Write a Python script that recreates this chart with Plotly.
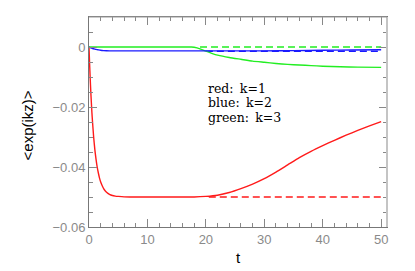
import plotly.graph_objects as go

# ---- data ----
t_red = [0, 0.1, 0.2, 0.3, 0.4, 0.5, 0.6, 0.8, 1.0, 1.2, 1.4, 1.6, 1.8, 2.0, 2.3, 2.6,
         3.0, 3.5, 4.0, 4.5, 5, 6, 7, 8, 10, 12, 15, 18, 20, 22, 24, 26, 28, 30, 32,
         34, 36, 38, 40, 42, 44, 46, 48, 50]
red = [0, -0.0054, -0.0103, -0.0146, -0.0184, -0.0219, -0.0249, -0.0301, -0.0342,
       -0.0374, -0.0400, -0.0420, -0.0437, -0.0450, -0.0464, -0.0475, -0.0484, -0.0491,
       -0.0495, -0.0497, -0.0498, -0.04995, -0.0500, -0.0500, -0.0500, -0.0500, -0.0500,
       -0.0500, -0.0498, -0.0494, -0.0485, -0.0472, -0.0457, -0.0439, -0.0417, -0.0393,
       -0.0369, -0.0348, -0.0329, -0.0311, -0.0294, -0.0278, -0.0263, -0.0249]
t_red_ref = [20.5, 50]
red_ref = [-0.0500, -0.0500]

t_blue = [0, 0.3, 0.6, 1.0, 1.5, 2.0, 2.5, 3, 4, 5, 8, 12, 16, 20, 25, 30, 35, 40, 45, 50]
blue = [0, -0.0003, -0.0005, -0.0007, -0.0009, -0.0011, -0.0012, -0.00125, -0.0013,
        -0.0013, -0.0013, -0.0013, -0.0013, -0.0013, -0.0013, -0.0013, -0.0012,
        -0.0011, -0.0010, -0.0009]
t_blue_ref = [20, 50]
blue_ref = [-0.0014, -0.0014]

t_green = [0, 5, 10, 15, 17.5, 18, 19, 20, 21, 22, 24, 26, 28, 30, 32, 34, 36, 38, 40,
           43, 46, 50]
green = [0, 0, 0, 0, 0, -0.0001, -0.0006, -0.0014, -0.0021, -0.0027, -0.0035, -0.0041,
         -0.0047, -0.0051, -0.0055, -0.0058, -0.0060, -0.0062, -0.0064, -0.0066,
         -0.0067, -0.0068]
t_green_ref = [19, 50]
green_ref = [0, 0]

legend_lines = ["red:\u2002k=1", "blue:\u2002k=2", "green:\u2002k=3"]
legend_y = [-0.0138, -0.0186, -0.0235]

x_range = [0, 51]
y_range = [-0.06, 0.01]

RED, BLUE, GREEN = "#ff1a1a", "#1a1aff", "#22ee22"

fig = go.Figure()
for tx, yy, col, dash in [
    (t_red_ref, red_ref, RED, "7px,4px"),
    (t_blue_ref, blue_ref, BLUE, "7px,4px"),
    (t_green_ref, green_ref, GREEN, "7px,4px"),
    (t_green, green, GREEN, "solid"),
    (t_blue, blue, BLUE, "solid"),
    (t_red, red, RED, "solid"),
]:
    fig.add_trace(go.Scatter(x=tx, y=yy, mode="lines",
                             line=dict(color=col, width=1.4, dash=dash, shape="spline",
                                       smoothing=0.5),
                             showlegend=False, hoverinfo="skip"))

tickfont = dict(family="Liberation Sans, Arial, sans-serif", size=13, color="#8a8a8a")

fig.update_xaxes(range=x_range, dtick=10, tick0=0, ticks="inside", ticklen=8,
                 tickcolor="#888", tickwidth=1, showline=True, linecolor="#777",
                 linewidth=1, mirror="ticks", showgrid=False, zeroline=False,
                 tickfont=tickfont, automargin=False,
                 minor=dict(dtick=2, tick0=0, ticks="inside", ticklen=4,
                            tickcolor="#888", showgrid=False))
fig.update_yaxes(range=y_range, dtick=0.02, tick0=0, ticks="inside", ticklen=8,
                 tickcolor="#888", tickwidth=1, showline=True, linecolor="#777",
                 linewidth=1, mirror="ticks", showgrid=False, zeroline=False,
                 tickfont=tickfont, automargin=False,
                 minor=dict(dtick=0.005, tick0=0, ticks="inside", ticklen=4,
                            tickcolor="#888", showgrid=False))

# lighter top / right frame edges
fig.add_shape(type="line", xref="paper", yref="paper", x0=1, x1=1, y0=0, y1=1,
              line=dict(color="#c4c4c4", width=2))
fig.add_shape(type="line", xref="paper", yref="paper", x0=0, x1=1, y0=1, y1=1,
              line=dict(color="#9a9a9a", width=1))

for txt, yv in zip(legend_lines, legend_y):
    fig.add_annotation(x=20.1, y=yv, xref="x", yref="y", text=txt, showarrow=False,
                       xanchor="left", yanchor="middle",
                       font=dict(family="DejaVu Serif, serif", size=12.5, color="black"))

fig.add_annotation(x=-0.207, y=0.485, xref="paper", yref="paper",
                   text="&lt;exp(ikz)&gt;", textangle=-90, showarrow=False,
                   xanchor="center", yanchor="middle",
                   font=dict(family="Liberation Sans, Arial, sans-serif", size=15,
                             color="black"))
fig.add_annotation(x=0.501, y=-0.145, xref="paper", yref="paper", text="t",
                   showarrow=False, xanchor="center", yanchor="middle",
                   font=dict(family="Liberation Sans, Arial, sans-serif", size=15,
                             color="black"))

fig.update_layout(width=415, height=271, margin=dict(l=89, r=28, t=17, b=44),
                  paper_bgcolor="white", plot_bgcolor="white", showlegend=False)

fig.write_html("out.html", config={"displayModeBar": False},
               post_script="document.body.style.margin='0';document.body.style.padding='0';")
